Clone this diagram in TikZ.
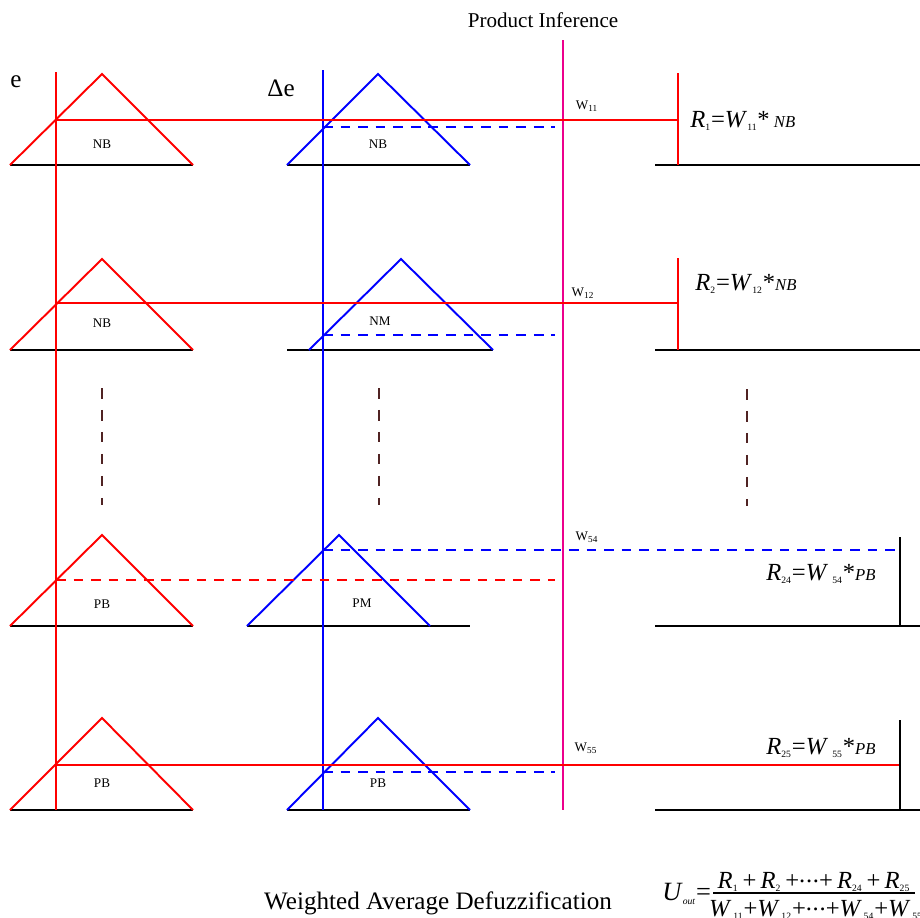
\documentclass[tikz,border=0pt]{standalone}
\usepackage{amsmath}
\usepackage{fontspec}
\setmainfont{Liberation Serif}
\definecolor{dotbrown}{RGB}{80,35,35}
\newcommand{\sbs}[1]{\textsubscript{\fontsize{5.5}{6}\selectfont#1}}
\newcommand{\fz}[1]{{\fontsize{9.5}{11}\selectfont\textit{#1}}}
\newcommand{\mdots}{\raisebox{0.22em}{.\kern0.4pt.\kern0.4pt.}}

\begin{document}
\begin{tikzpicture}[x=0.02cm, y=-0.02cm, every node/.style={inner sep=0pt},
	lbl/.style={font=\fontsize{7.5}{8}\selectfont},
	big/.style={font=\fontsize{14.3}{16}\selectfont},
	rule/.style={font=\fontsize{14}{16}\selectfont, anchor=west},
	base/.style={black, line width=1.2pt},
	mf/.style={line width=1.1pt},
	cut/.style={line width=1.1pt, dash pattern=on 5.5pt off 4.5pt},
	gap/.style={dotbrown, line width=1pt, dash pattern=on 6pt off 6.5pt}]
	\useasboundingbox (0,0) rectangle (920,917);
	% universes of discourse
	\draw[base] (10,165) -- (193,165) (287,165) -- (470,165) (655,165) -- (920,165);
	\draw[base] (10,350) -- (193,350) (287,350) -- (493,350) (655,350) -- (920,350);
	\draw[base] (10,626) -- (193,626) (247,626) -- (470,626) (655,626) -- (920,626);
	\draw[base] (10,810) -- (193,810) (287,810) -- (470,810) (655,810) -- (920,810);
	% membership functions of e
	\draw[red, mf] (10,165) -- (102,74) -- (193,165);
	\draw[red, mf] (10,350) -- (102,259) -- (193,350);
	\draw[red, mf] (10,626) -- (102,535) -- (193,626);
	\draw[red, mf] (10,810) -- (102,718) -- (193,810);
	% membership functions of delta e
	\draw[blue, mf] (287,165) -- (378,74) -- (470,165);
	\draw[blue, mf] (309,350) -- (401,259) -- (493,350);
	\draw[blue, mf] (247,626) -- (339,535) -- (430,626);
	\draw[blue, mf] (287,810) -- (378,718) -- (470,810);
	% crisp inputs
	\draw[red, mf] (56,72) -- (56,810);
	\draw[blue, mf] (323,70) -- (323,810);
	\draw[magenta, mf] (563,40) -- (563,810);
	% firing strengths
	\draw[red, mf] (56,120) -- (678,120) (678,73) -- (678,165);
	\draw[blue, cut] (323,127) -- (555,127);
	\draw[red, mf] (56,303) -- (678,303) (678,258) -- (678,350);
	\draw[blue, cut] (323,335) -- (555,335);
	\draw[red, cut] (56,580) -- (555,580);
	\draw[blue, cut] (323,550) -- (900,550);
	\draw[black, mf] (900,537) -- (900,626);
	\draw[red, mf] (56,765) -- (900,765);
	\draw[blue, cut] (323,772) -- (555,772);
	\draw[black, mf] (900,720) -- (900,810);
	% omitted rules
	\draw[gap] (102,388) -- (102,505);
	\draw[gap] (379,388) -- (379,505);
	\draw[gap] (747,389) -- (747,506);
	% labels
	\node[font=\fontsize{12}{14}\selectfont] (title) at (543,20) {Product Inference};
	\node[big] (e) at (16,82) {e};
	\node[big] (de) at (281,88) {Δe};
	\node[lbl] (nb1) at (102,144) {NB};
	\node[lbl] (nb2) at (378,144) {NB};
	\node[lbl] (nb3) at (102,323) {NB};
	\node[lbl] (nm) at (380,321) {NM};
	\node[lbl] (pb1) at (102,604) {PB};
	\node[lbl] (pm) at (362,603) {PM};
	\node[lbl] (pb2) at (102,783) {PB};
	\node[lbl] (pb3) at (378,783) {PB};
	\node[lbl] (w11) at (587,106) {W\textsubscript{11}};
	\node[lbl] (w12) at (583,293) {W\textsubscript{12}};
	\node[lbl] (w54) at (587,537) {W\textsubscript{54}};
	\node[lbl] (w55) at (586,748) {W\textsubscript{55}};
	\node[rule] (r1) at (690,121) {\textit{R}\sbs{1}=\textit{W}\sbs{11}*\,\fz{NB}};
	\node[rule] (r2) at (695,284) {\textit{R}\sbs{2}=\textit{W}\sbs{12}*\fz{NB}};
	\node[rule] (r24) at (766,574) {\textit{R}\sbs{24}=\textit{W}\,\sbs{54}*\fz{PB}};
	\node[rule] (r25) at (766,748) {\textit{R}\sbs{25}=\textit{W}\,\sbs{55}*\fz{PB}};
	\node[big] (defuzz) at (438,903) {Weighted Average Defuzzification};
	% output formula
	\node[rule, font=\fontsize{15}{17}\selectfont] (uout) at (662,894) {\textit{U}\sbs{\textit{out}}=};
	\node[font=\fontsize{14}{17}\selectfont] (num) at (814,882) {\textit{R}\sbs{1}\,+\,\textit{R}\sbs{2}\,+\mdots+\,\textit{R}\sbs{24}\,+\,\textit{R}\sbs{25}};
	\node[font=\fontsize{14}{17}\selectfont] (den) at (816,910) {\textit{W}\kern1pt\sbs{11}+\textit{W}\kern1pt\sbs{12}+\mdots+\textit{W}\kern1pt\sbs{54}+\textit{W}\kern1pt\sbs{55}};
	\draw[line width=0.6pt] (713,893) -- (915,893);
\end{tikzpicture}
\end{document}
